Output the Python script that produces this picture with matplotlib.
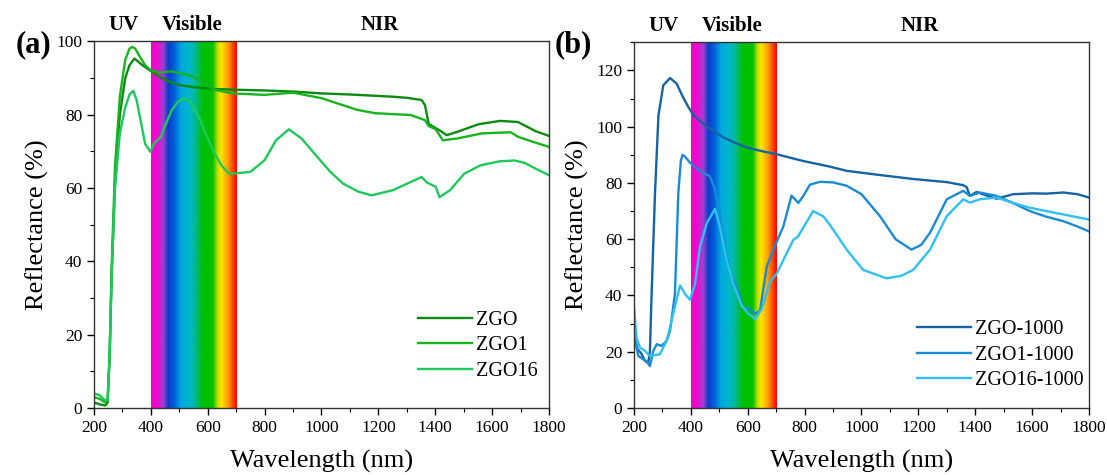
import numpy as np
from matplotlib import pyplot as plt
from matplotlib.colors import LinearSegmentedColormap
from matplotlib.ticker import MultipleLocator

plt.rcParams['font.family'] = ['Liberation Serif', 'DejaVu Serif']

# ---- panel (a) data ----
zgo_x = [200, 220, 240, 248, 255, 262, 274, 291, 310, 325, 342, 355, 370, 398, 430, 470, 499, 550,
         624, 700, 800, 900, 1000, 1100, 1251, 1300, 1352, 1364, 1377, 1402, 1420, 1440, 1477, 1553,
         1628, 1691, 1753, 1800]
zgo_y = [1.5, 1.0, 0.7, 1.5, 14, 36, 62, 80, 90, 93.5, 95.3, 94.5, 93.5, 92, 90.3, 88.8, 88.1, 87.5,
         87, 86.8, 86.6, 86.3, 85.8, 85.5, 84.9, 84.6, 84, 82.6, 77.5, 76.3, 75.5, 74.4, 75.3, 77.4,
         78.3, 78, 75.5, 74.2]

zgo1_x = [200, 220, 240, 248, 255, 262, 274, 291, 310, 325, 335, 345, 360, 380, 398, 430, 474, 510,
          549, 590, 624, 687, 800, 900, 1000, 1126, 1189, 1314, 1364, 1377, 1402, 1427, 1477, 1565,
          1666, 1690, 1728, 1800]
zgo1_y = [3, 2.5, 1.5, 2, 15, 38, 66, 85, 95, 98, 98.5, 98, 96, 93.5, 92.2, 91.5, 91.8, 91.2,
          90.4, 88.5, 86.8, 85.8, 85.4, 86, 84.5, 81.3, 80.4, 79.9, 78.5, 76.9, 76, 73, 73.5, 74.9,
          75.2, 74, 73, 71.2]

zgo16_x = [200, 220, 240, 248, 255, 262, 274, 291, 310, 325, 338, 350, 365, 380, 398, 410, 423, 436,
           450, 474, 495, 517, 540, 574, 600, 624, 650, 674, 700, 750, 800, 840, 885, 930, 975, 1030,
           1076, 1130, 1176, 1251, 1352, 1371, 1402, 1415, 1452, 1502, 1560, 1628, 1680, 1716, 1760,
           1800]
zgo16_y = [4, 3.5, 2, 2.5, 14, 36, 60, 75, 82, 85.5, 86.5, 84, 78, 72, 69.9, 72, 73, 74,
           77, 81.3, 83.5, 84.5, 83.5, 78.5, 73.5, 69.4, 66, 63.9, 64, 64.4, 67.6, 73, 76, 73.5, 69.4,
           64.5, 61.2, 59, 58, 59.4, 63, 61.5, 60.3, 57.5, 59.4, 63.9, 66.2, 67.3, 67.5, 66.8, 65,
           63.5]

# ---- panel (b) data ----
zgo1000_x = [200, 212, 225, 239, 250, 256, 262, 274, 286, 303, 327, 350, 370, 391, 410, 444, 480,
             514, 550, 596, 650, 702, 795, 889, 948, 1050, 1182, 1300, 1358, 1370, 1381, 1405, 1440,
             1475, 1534, 1600, 1650, 1710, 1760, 1800]
zgo1000_y = [26, 21, 19.5, 16.7, 16.1, 20, 40.6, 76.5, 104, 114.7, 117.3, 115.3, 111, 107, 104, 101,
             98.5, 96.2, 94.5, 92.6, 91.3, 90.2, 87.8, 85.8, 84.3, 83, 81.4, 80.3, 79.2, 78.5, 75.4,
             76.8, 75.5, 74.4, 76, 76.3, 76.2, 76.6, 76, 74.8]

zgo1_1000_x = [200, 215, 233, 245, 256, 268, 280, 297, 315, 327, 344, 356, 365, 371, 380, 397, 432,
               467, 485, 497, 520, 538, 561, 585, 602, 615, 626, 643, 667, 690, 725, 754, 778, 795,
               819, 854, 900, 948, 1000, 1065, 1120, 1176, 1210, 1241, 1300, 1358, 1381, 1417, 1475,
               1530, 1592, 1650, 1710, 1760, 1800]
zgo1_1000_y = [26.3, 18.5, 17.3, 16.5, 14.9, 20.3, 22.7, 22.1, 23.9, 27.5, 40.6, 76.5, 88, 90, 89.3,
               87.2, 84.2, 82.4, 77.7, 70.5, 57.3, 47.8, 43, 35.2, 35.6, 34.5, 33.5, 34.6, 50.2, 56.2,
               64.5, 75.5, 72.9, 75.3, 79.4, 80.4, 80.2, 79, 76, 68.2, 60, 56.3, 58, 62.3, 74.2, 77.2,
               75.4, 76.6, 75.4, 73, 70, 68, 66.4, 64.5, 62.8]

zgo16_1000_x = [200, 209, 221, 239, 256, 291, 315, 338, 362, 379, 397, 415, 432, 456, 485, 502, 526,
                549, 579, 602, 626, 649, 678, 702, 737, 760, 777, 830, 866, 889, 950, 1006, 1088, 1140,
                1182, 1241, 1300, 1358, 1381, 1417, 1475, 1530, 1592, 1650, 1710, 1760, 1800]
zgo16_1000_y = [35.8, 25, 21.5, 20.3, 18.5, 19.1, 23.9, 33.5, 43.6, 40.6, 38.5, 44.2, 57.3, 65.7,
                70.8, 64.5, 52.6, 44.2, 36.4, 33.5, 31.7, 35.2, 44.8, 47.8, 55, 59.7, 61, 70, 68.1,
                65.1, 56, 49.1, 46.1, 47, 49.1, 56.3, 68.2, 74.2, 73, 74.2, 74.8, 73, 71.2, 70, 68.8,
                67.8, 67]

labels_a = ['ZGO', 'ZGO1', 'ZGO16']
labels_b = ['ZGO-1000', 'ZGO1-1000', 'ZGO16-1000']
colors_a = ['#0b8a12', '#16b41e', '#1ec85c']
colors_b = ['#1463a3', '#1a8ad6', '#2ec0f0']

spectrum = LinearSegmentedColormap.from_list('vis', [
    (0.0, '#f800c8'), (0.08, '#e810d0'), (0.14, '#9a44d0'), (0.2, '#0a3cc8'), (0.27, '#0060d8'),
    (0.35, '#00a8e0'), (0.45, '#00b8c8'), (0.52, '#00b890'), (0.6, '#00c000'), (0.72, '#00c000'),
    (0.78, '#c8e000'), (0.82, '#ffe400'), (0.9, '#ff9c00'), (1.0, '#ff0000')])

fig = plt.figure(figsize=(11.07, 4.75), dpi=100)
ax1 = fig.add_axes([0.0849, 0.141, 0.411, 0.772])
ax2 = fig.add_axes([0.5727, 0.141, 0.411, 0.770])


def style(ax, ymax, ystep, series_x, series_y, labels, colors, legend_pos):
    grad = np.linspace(0, 1, 300).reshape(1, -1)
    ax.imshow(grad, cmap=spectrum, extent=[400, 700, 0, ymax], aspect='auto', zorder=0)
    for xs, ys, lab, c in zip(series_x, series_y, labels, colors):
        ax.plot(xs, ys, color=c, lw=1.7, label=lab, zorder=2)
    ax.set_xlim(200, 1800)
    ax.set_ylim(0, ymax)
    ax.xaxis.set_major_locator(MultipleLocator(200))
    ax.xaxis.set_minor_locator(MultipleLocator(100))
    ax.yaxis.set_major_locator(MultipleLocator(ystep))
    ax.yaxis.set_minor_locator(MultipleLocator(ystep / 2))
    ax.tick_params(which='major', length=5, width=1, labelsize=12.5, direction='out')
    ax.tick_params(which='minor', length=3, width=0.8, direction='out')
    for s in ax.spines.values():
        s.set_linewidth(1.0)
        s.set_color('#333333')
    ax.set_xlabel('Wavelength (nm)', fontsize=19, labelpad=10)
    ax.set_ylabel('Reflectance (%)', fontsize=19, labelpad=5)
    ax.legend(loc='lower left', bbox_to_anchor=legend_pos, frameon=False, fontsize=14.5,
              handlelength=2.7, handletextpad=0.2, labelspacing=0.32, borderpad=0)
    tr = ax.get_xaxis_transform()
    for txt, xp in [('UV', 305), ('Visible', 546), ('NIR', 1205)]:
        ax.text(xp, 1.03, txt, transform=tr, ha='center', va='baseline', fontsize=15,
                fontweight='bold')


style(ax1, 100, 20, [zgo_x, zgo1_x, zgo16_x], [zgo_y, zgo1_y, zgo16_y], labels_a, colors_a,
      (0.69, 0.047))
style(ax2, 130, 20, [zgo1000_x, zgo1_1000_x, zgo16_1000_x],
      [zgo1000_y, zgo1_1000_y, zgo16_1000_y], labels_b, colors_b, (0.6, 0.021))

fig.text(0.030, 0.905, '(a)', fontsize=22, fontweight='bold', ha='center', va='center')
fig.text(0.518, 0.905, '(b)', fontsize=22, fontweight='bold', ha='center', va='center')

plt.savefig('out.png', dpi=100)
